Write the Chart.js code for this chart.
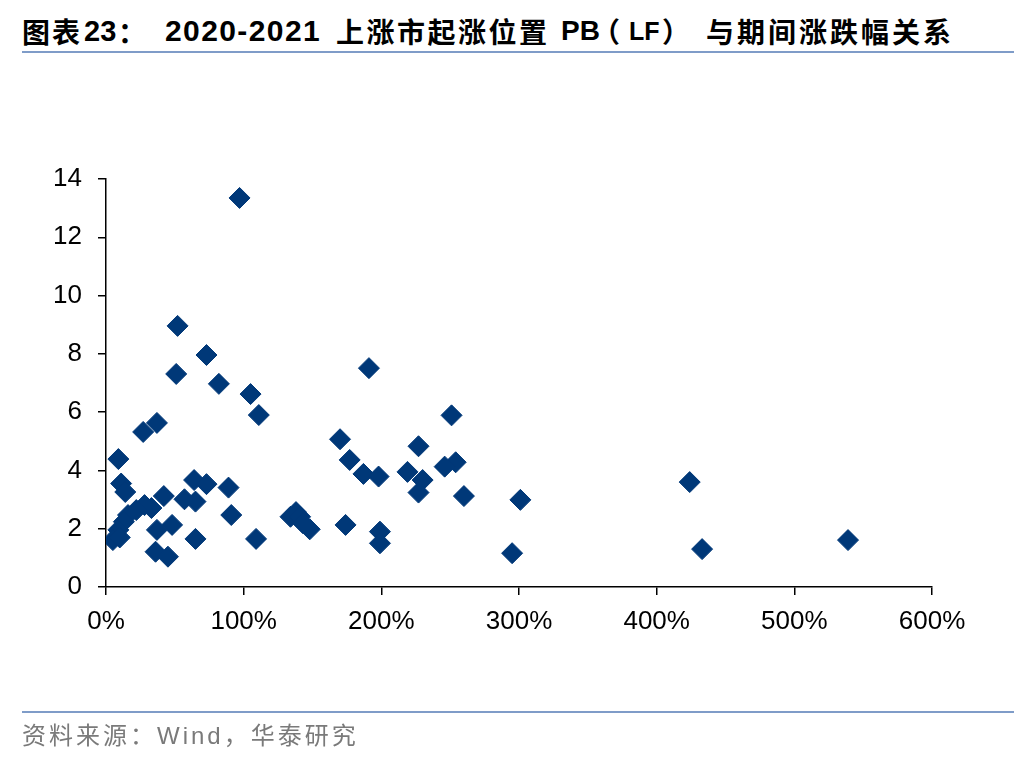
<!DOCTYPE html>
<html>
<head>
<meta charset="utf-8">
<script src="https://cdn.jsdelivr.net/npm/chart.js@4/dist/chart.umd.min.js"></script>
<style>
  body { margin: 0; width: 1036px; height: 760px; background: #fff; position: relative; overflow: hidden; }
  .t { position: absolute; top: 16px; font-weight: bold; color: #000; white-space: nowrap; line-height: 30px; }
  .cjk { font-family: "Noto Sans CJK SC", sans-serif; font-size: 28px; }
  .lat { font-family: "Liberation Sans", Arial, sans-serif; font-size: 29px; }
  #source { position: absolute; left: 22px; top: 721px; font: 24px "Liberation Sans", "Noto Sans CJK SC", sans-serif; letter-spacing: 3px; color: #7a7a7a; white-space: nowrap; line-height: 30px; }
  #topLine { position: absolute; left: 22px; top: 51px; width: 992px; height: 2px; background: #7f9cc8; }
  #bottomLine { position: absolute; left: 22px; top: 711px; width: 992px; height: 2px; background: #7f9cc8; }
  #wrap { position: absolute; left: 0; top: 0; width: 1036px; height: 760px; }
</style>
</head>
<body>
<div class="t cjk" style="left:22px; letter-spacing:2px;">图表</div>
<div class="t lat" style="left:84px;">23</div>
<div class="t cjk" style="left:118px;">：</div>
<div class="t lat" style="left:165px; font-size:30px; letter-spacing:1.4px;">2020-2021</div>
<div class="t cjk" style="left:336px; letter-spacing:2.5px;">上涨市起涨位置</div>
<div class="t lat" style="left:561px; font-size:28px;">PB</div>
<div class="t cjk" style="left:592px;">（</div>
<div class="t lat" style="left:629px; font-size:25px;">LF</div>
<div class="t cjk" style="left:662px;">）</div>
<div class="t cjk" style="left:706px; letter-spacing:3px;">与期间涨跌幅关系</div>
<div id="topLine"></div>
<div id="wrap"><canvas id="scatterChart" width="1036" height="760"></canvas></div>
<div id="bottomLine"></div>
<div id="source">资料来源：Wind，华泰研究</div>
<script>
        // DATA
        // period change (%) and PB (LF) at the start of the rally
        let changePct = [
            97, 52, 73, 51, 82, 105, 111, 37, 27, 9,
            11, 14, 64, 73, 89, 42, 57, 65, 91, 33,
            28, 22, 16, 13, 9, 5, 10, 48, 37, 65,
            109, 36, 45,
            191, 251, 170, 227, 177, 254, 246, 187, 198, 219,
            230, 227, 260, 301, 134, 138, 141, 143, 148, 174,
            199, 199, 295,
            424, 433, 539
        ];
        let pbValues = [
            13.35, 8.96, 7.96, 7.31, 6.97, 6.62, 5.90, 5.63, 5.32, 4.39,
            3.55, 3.26, 3.67, 3.53, 3.41, 3.12, 3.01, 2.93, 2.47, 2.71,
            2.81, 2.64, 2.47, 2.24, 1.96, 1.61, 1.70, 2.13, 1.96, 1.65,
            1.65, 1.21, 1.04,
            7.51, 5.89, 5.07, 4.83, 4.36, 4.28, 4.13, 3.88, 3.79, 3.95,
            3.67, 3.24, 3.12, 2.99, 2.41, 2.57, 2.41, 2.19, 1.98, 2.13,
            1.90, 1.50, 1.16,
            3.60, 1.30, 1.61
        ];
        let xTicks = [0, 100, 200, 300, 400, 500, 600];
        let yTicks = [0, 2, 4, 6, 8, 10, 12, 14];

        let points = [];
        for (i = 0; i < changePct.length; i++) {
            points.push({ x: changePct[i], y: pbValues[i] });
        }

        let tickFont = { family: '"Liberation Sans", Arial, sans-serif', size: 26 };
        let ctx = document.getElementById('scatterChart').getContext('2d');
        let scatterChart = new Chart(ctx, {
            type: 'scatter',
            data: {
                datasets: [{
                    data: points,
                    pointStyle: 'rectRot',
                    pointRadius: 10.5,
                    pointHoverRadius: 10.5,
                    backgroundColor: '#003878',
                    borderColor: '#003878',
                    borderWidth: 1
                }]
            },
            options: {
                responsive: false,
                animation: false,
                devicePixelRatio: 1,
                layout: { padding: { left: 0, right: 104, top: 179, bottom: 0 } },
                plugins: { legend: { display: false }, tooltip: { enabled: false } },
                scales: {
                    x: {
                        type: 'linear',
                        min: xTicks[0],
                        max: xTicks[xTicks.length - 1],
                        afterBuildTicks: function (scale) { scale.ticks = xTicks.map(v => ({ value: v })); },
                        afterFit: function (scale) { scale.height = 760 - 587; },
                        grid: { drawOnChartArea: false, tickLength: 8, color: '#000', lineWidth: 1.5 },
                        border: { color: '#000', width: 1.5 },
                        ticks: {
                            color: '#000',
                            font: tickFont,
                            padding: 11,
                            maxRotation: 0,
                            callback: function (v) { return v + '%'; }
                        }
                    },
                    y: {
                        type: 'linear',
                        min: yTicks[0],
                        max: yTicks[yTicks.length - 1],
                        afterBuildTicks: function (scale) { scale.ticks = yTicks.map(v => ({ value: v })); },
                        afterFit: function (scale) { scale.width = 106; },
                        grid: { drawOnChartArea: false, tickLength: 8, color: '#000', lineWidth: 1.5 },
                        border: { color: '#000', width: 1.5 },
                        ticks: { color: '#000', font: tickFont, padding: 16 }
                    }
                }
            }
        });
</script>
</body>
</html>
